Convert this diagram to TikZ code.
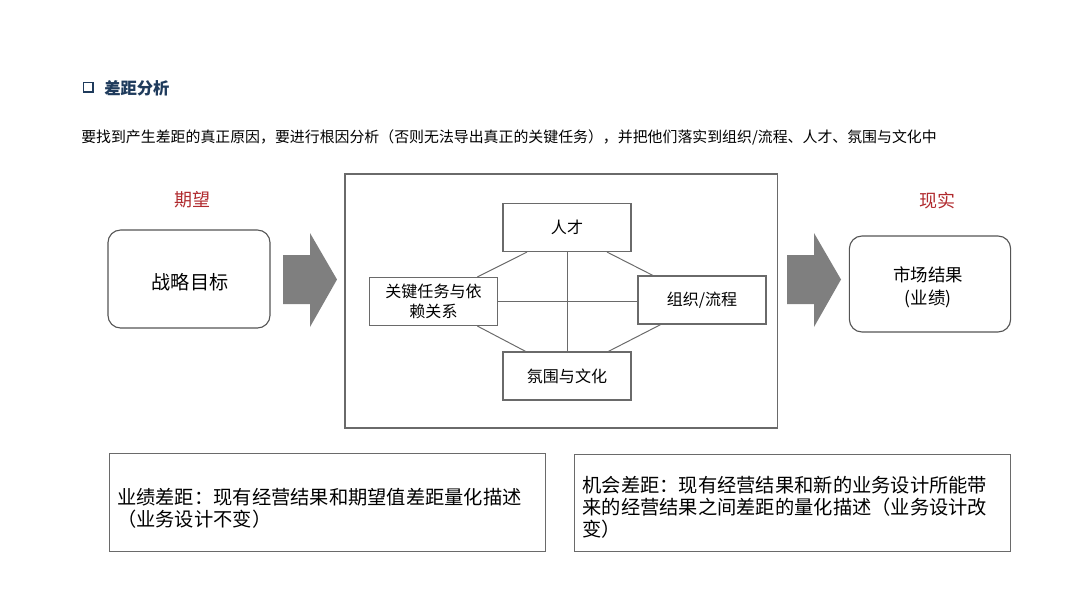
\documentclass[tikz,border=0pt]{standalone}
\usepackage{fontspec}
\setmainfont{Noto Sans CJK SC}
\usetikzlibrary{positioning,calc}
\definecolor{titleblue}{HTML}{1F3B5C}
\definecolor{labelred}{HTML}{B02A2E}
\definecolor{arrowgray}{HTML}{7F7F7F}
\definecolor{linegray}{HTML}{6A6A6A}

\begin{document}
\begin{tikzpicture}[x=0.025cm, y=-0.025cm,
  rbox/.style={draw=linegray!80!black, line width=0.8pt, rounded corners=9pt,
    minimum width=4cm, minimum height=2.4cm, align=center},
  factor/.style={draw=linegray, line width=0.8pt, minimum width=3.2cm,
    minimum height=1.2cm, align=center, font=\fontsize{11.4}{14}\selectfont},
  gapbox/.style={draw=linegray, line width=0.8pt, minimum width=10.9cm,
    minimum height=2.43cm},
  gaptext/.style={anchor=west, align=left, inner sep=0pt,
    font=\fontsize{13.7}{15.9}\selectfont},
  tag/.style={text=labelred, font=\fontsize{12.8}{14}\selectfont},
  link/.style={draw=linegray, line width=0.7pt}]
  \useasboundingbox (0,0) rectangle (1080,608);
  % heading
  \draw[titleblue, line width=1.3pt] (83.5,82.5) rectangle (93,92);
  \node[anchor=west, inner sep=0pt, text=titleblue,
    font=\fontsize{11.6}{13}\selectfont\bfseries] (title) at (104,88) {差距分析};
  \node[anchor=west, inner sep=0pt, font=\fontsize{10.6}{12}\selectfont] (intro) at (81,137)
    {要找到产生差距的真正原因，要进行根因分析（否则无法导出真正的关键任务），并把他们落实到组织/流程、人才、氛围与文化中};
  % expectation side
  \node[rbox, minimum width=4.05cm, minimum height=2.45cm,
    font=\fontsize{13.6}{16}\selectfont] (goal) at (189,279) {};
  \node[font=\fontsize{13.6}{16}\selectfont] (goaltext) at (190,282) {战略目标};
  \node[tag] (expect) at (192,200) {期望};
  % reality side
  \node[rbox, minimum width=4.03cm] (market) at (930,284) {};
  \node[align=center, font=\fontsize{12.4}{16.4}\selectfont] (marketext) at (928,287)
    {市场结果\\(业绩)};
  \node[tag] (real) at (937,201) {现实};
  % big arrows
  \foreach \x in {283,787}{
    \fill[arrowgray] (\x,255) -- (\x+27,255) -- (\x+27,233) -- (\x+54,279.5)
      -- (\x+27,327) -- (\x+27,304) -- (\x,304) -- cycle;
  }
  % gap analysis frame
  \node[draw=linegray, line width=0.8pt, minimum width=10.8cm,
    minimum height=6.35cm] (frame) at (561,301) {};
  \node[factor] (talent) at (567,227.5) {人才};
  \node[factor] (keytask) at (433.5,301.5) {关键任务与依\\赖关系};
  \node[factor] (org) at (702,300) {组织/流程};
  \node[factor] (culture) at (567,376) {氛围与文化};
  \draw[link] (talent.south) -- (culture.north);
  \draw[link] (keytask.east) -- (keytask.east -| org.west);
  \draw[link] ($(talent.south west)!0.19!(talent.south east)$)
    -- ($(keytask.north west)!0.84!(keytask.north east)$);
  \draw[link] ($(talent.south west)!0.81!(talent.south east)$)
    -- ($(org.north west)!0.12!(org.north east)$);
  \draw[link] ($(culture.north west)!0.18!(culture.north east)$)
    -- ($(keytask.south west)!0.84!(keytask.south east)$);
  \draw[link] ($(culture.north west)!0.82!(culture.north east)$)
    -- ($(org.south west)!0.18!(org.south east)$);
  % gap descriptions
  \node[gapbox] (perfgap) at (327.5,502.5) {};
  \node[gaptext] (perftext) at ([xshift=5.7pt, yshift=-4.3pt]perfgap.west)
    {业绩差距：现有经营结果和期望值差距量化描述\\（业务设计不变）};
  \node[gapbox] (oppgap) at (792.5,503) {};
  \node[gaptext] (opptext) at ([xshift=6pt, yshift=-3pt]oppgap.west)
    {机会差距：现有经营结果和新的业务设计所能带\\来的经营结果之间差距的量化描述（业务设计改\\变）};
\end{tikzpicture}
\end{document}
